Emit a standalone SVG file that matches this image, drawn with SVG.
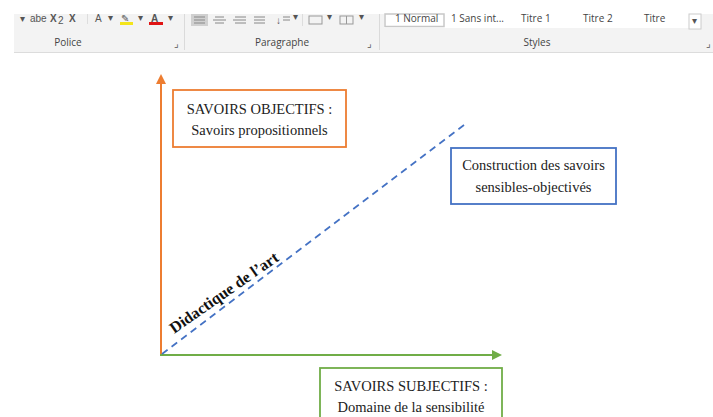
<svg xmlns="http://www.w3.org/2000/svg" width="713" height="417" viewBox="0 0 713 417">
<style>
.rib{font-family:"Segoe UI","Open Sans","Noto Sans",sans-serif;font-size:10px;fill:#444}
.ico{font-family:"Liberation Sans",sans-serif;font-size:10px;fill:#555}
.t{font-family:"Liberation Serif","Times New Roman",serif;font-size:14.5px;fill:#222;text-anchor:middle}
</style>
<defs>
<marker id="ao" markerWidth="10" markerHeight="10" refX="5" refY="5" orient="auto" markerUnits="userSpaceOnUse"><path d="M0,0 L10,5 L0,10 z" fill="#ED7D31"/></marker>
<marker id="ag" markerWidth="10" markerHeight="10" refX="5" refY="5" orient="auto" markerUnits="userSpaceOnUse"><path d="M0,0 L10,5 L0,10 z" fill="#70AD47"/></marker>
</defs>
<rect width="713" height="417" fill="#fff"/>
<g id="ribbon">
<rect x="14" y="14" width="699" height="39" fill="#f3f3f3"/>
<line x1="14" y1="52.5" x2="713" y2="52.5" stroke="#dcdcdc"/>
<line x1="184.5" y1="14" x2="184.5" y2="50" stroke="#dadada"/>
<line x1="379.5" y1="14" x2="379.5" y2="50" stroke="#dadada"/>
<text class="ico" x="20" y="22" font-size="8">▾</text>
<text class="ico" x="30" y="22" font-size="9">abe</text>
<text class="ico" x="50" y="22" font-weight="bold">X</text><text class="ico" x="58" y="24" font-size="6">2</text>
<text class="ico" x="69" y="22" font-weight="bold">X</text>
<line x1="87.5" y1="14" x2="87.5" y2="24" stroke="#ddd"/>
<text class="ico" x="95" y="22" fill="#5b8bd0">A</text><text class="ico" x="108" y="21" font-size="7">▾</text>
<text class="ico" x="121" y="22" fill="#666">✎</text><rect x="120" y="22" width="13" height="3" fill="#f4e51a"/><text class="ico" x="138" y="21" font-size="7">▾</text>
<text class="ico" x="151" y="22" font-weight="bold" fill="#666">A</text><rect x="149" y="22" width="14" height="3" fill="#e01414"/><text class="ico" x="168" y="21" font-size="7">▾</text>
<text class="rib" x="68" y="46" text-anchor="middle">Police</text>
<text class="ico" x="174" y="47" font-size="7">⌟</text>
<rect x="191" y="14" width="17" height="12" fill="#d0d0d0"/>
<g stroke="#888" stroke-width="1"><line x1="194" y1="17" x2="205" y2="17"/><line x1="194" y1="20" x2="205" y2="20"/><line x1="194" y1="23" x2="205" y2="23"/>
<line x1="215" y1="17" x2="224" y2="17"/><line x1="213" y1="20" x2="226" y2="20"/><line x1="215" y1="23" x2="224" y2="23"/>
<line x1="235" y1="17" x2="246" y2="17"/><line x1="233" y1="20" x2="246" y2="20"/><line x1="235" y1="23" x2="246" y2="23"/>
<line x1="254" y1="17" x2="265" y2="17"/><line x1="254" y1="20" x2="265" y2="20"/><line x1="254" y1="23" x2="265" y2="23"/>
<line x1="283" y1="17" x2="290" y2="17"/><line x1="283" y1="20" x2="290" y2="20"/></g>
<text class="ico" x="276" y="24" fill="#4a7fd0" font-size="9">↓</text><text class="ico" x="293" y="20" font-size="7">▾</text>
<line x1="302.5" y1="14" x2="302.5" y2="26" stroke="#ddd"/>
<rect x="309" y="16" width="13" height="8" fill="none" stroke="#999"/><text class="ico" x="327" y="20" font-size="7">▾</text>
<rect x="340" y="16" width="13" height="8" fill="none" stroke="#999"/><line x1="346.5" y1="16" x2="346.5" y2="24" stroke="#999"/><text class="ico" x="359" y="20" font-size="7">▾</text>
<text class="rib" x="282" y="46" text-anchor="middle">Paragraphe</text>
<text class="ico" x="367" y="47" font-size="7">⌟</text>
<rect x="384" y="14" width="316" height="14" fill="#fff"/>
<rect x="385" y="14" width="59" height="12.5" fill="#fff" stroke="#c8c8c8" stroke-width="1.5"/>
<text class="rib" x="395" y="22" fill="#555">1 Normal</text>
<text class="rib" x="451" y="22" fill="#555">1 Sans int...</text>
<text class="rib" x="521" y="22" fill="#555">Titre 1</text>
<text class="rib" x="583" y="22" fill="#555">Titre 2</text>
<text class="rib" x="644" y="22" fill="#555">Titre</text>
<rect x="689" y="14" width="12" height="15" fill="#fff" stroke="#ccc"/><text class="ico" x="692" y="24" font-size="7">▾</text>
<text class="rib" x="537" y="46" text-anchor="middle">Styles</text>
<text class="ico" x="706" y="47" font-size="7">⌟</text>
</g>
<g id="connectors">
<line x1="161" y1="356" x2="161" y2="79" stroke="#ED7D31" stroke-width="2" marker-end="url(#ao)"/>
<line x1="160" y1="355" x2="497" y2="355" stroke="#70AD47" stroke-width="2" marker-end="url(#ag)"/>
<line x1="162" y1="354" x2="468" y2="122" stroke="#4472C4" stroke-width="1.7" stroke-dasharray="7,5"/>
<text x="227" y="297" transform="rotate(-35 227 297)" font-family="'Liberation Serif',serif" font-size="16" font-weight="bold" fill="#111" text-anchor="middle">Didactique de l’art</text>
</g>
<g id="objectifs">
<rect x="173" y="90" width="173" height="57" fill="#fff" stroke="#ED7D31" stroke-width="1.8"/>
<text class="t" x="259.5" y="114">SAVOIRS OBJECTIFS :</text>
<text class="t" x="259.5" y="135">Savoirs propositionnels</text>
</g>
<g id="construction">
<rect x="451" y="148" width="165" height="56" fill="#fff" stroke="#4472C4" stroke-width="1.8"/>
<text class="t" x="533.5" y="170">Construction des savoirs</text>
<text class="t" x="533.5" y="192">sensibles-objectivés</text>
</g>
<g id="subjectifs">
<rect x="320" y="368" width="182" height="60" fill="#fff" stroke="#70AD47" stroke-width="1.8"/>
<text class="t" x="411" y="391">SAVOIRS SUBJECTIFS :</text>
<text class="t" x="411" y="412">Domaine de la sensibilité</text>
</g>
</svg>
